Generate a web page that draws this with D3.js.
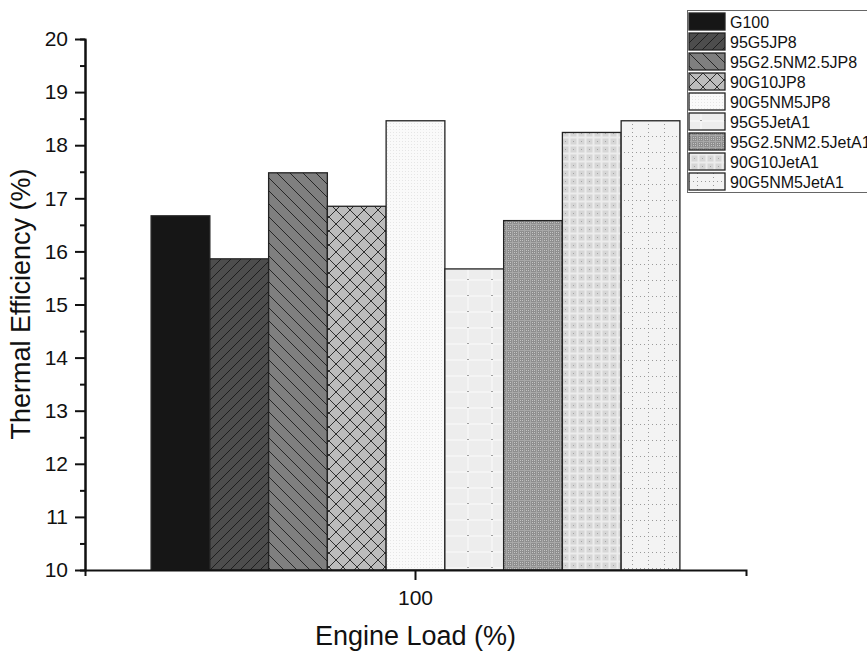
<!DOCTYPE html>
<html>
<head>
<meta charset="utf-8">
<script src="https://cdn.jsdelivr.net/npm/d3@7"></script>
<style>
  body { margin: 0; background: #fff; }
  text { font-family: "Liberation Sans", Arial, sans-serif; fill: #111; }
</style>
</head>
<body>
<div id="chart"></div>
<script>
var loads = ["100"];
var fuels = ["G100", "95G5JP8", "95G2.5NM2.5JP8", "90G10JP8", "90G5NM5JP8",
             "95G5JetA1", "95G2.5NM2.5JetA1", "90G10JetA1", "90G5NM5JetA1"];
var efficiency = [16.67, 15.86, 17.48, 16.85, 18.46, 15.67, 16.58, 18.24, 18.46];
var yTicks = [10, 11, 12, 13, 14, 15, 16, 17, 18, 19, 20];

var width = 867,
    height = 651;

var svg = d3.select("#chart")
            .append("svg")
            .attr("width", width)
            .attr("height", height);

var defs = svg.append("defs");

// fill patterns, one per fuel
function pattern(id, w, h, bg) {
    var p = defs.append("pattern")
        .attr("id", id)
        .attr("patternUnits", "userSpaceOnUse")
        .attr("width", w)
        .attr("height", h);
    p.append("rect").attr("width", w).attr("height", h).attr("fill", bg);
    return p;
}

pattern("p0", 10, 10, "#161616");

pattern("p1", 10, 10, "#4d4d4d")
    .append("path")
    .attr("d", "M0,10L10,0M-2,2L2,-2M8,12L12,8")
    .attr("stroke", "#1e1e1e").attr("stroke-width", 1);

pattern("p2", 13, 13, "#7f7f7f")
    .append("path")
    .attr("d", "M0,0L13,13M-3,10L3,16M10,-3L16,3")
    .attr("stroke", "#262626").attr("stroke-width", 1);

pattern("p3", 14, 14, "#bcbcbc")
    .append("path")
    .attr("d", "M0,0L14,14M0,14L14,0")
    .attr("stroke", "#2e2e2e").attr("stroke-width", 1);

var p4 = pattern("p4", 3, 3, "#fafafa");
p4.append("rect").attr("width", 1).attr("height", 1).attr("fill", "#e6e6e6");

var p5 = pattern("p5", 24, 16, "#ededed");
p5.append("path").attr("d", "M0,8H24M12,0V16").attr("stroke", "#fbfbfb").attr("stroke-width", 1);
p5.append("rect").attr("x", 11).attr("y", 7).attr("width", 2).attr("height", 1).attr("fill", "#a0a0a0");

var p6 = pattern("p6", 6, 6, "#8e8e8e");
p6.append("path").attr("d", "M0,0h1v1h-1zM2,2h1v1h-1zM4,4h1v1h-1zM4,0h1v1h-1zM0,4h1v1h-1z")
    .attr("fill", "#c4c4c4");
p6.append("path").attr("d", "M0,2.5H6M2.5,0V6").attr("stroke", "#a8a8a8").attr("stroke-width", 1);

var p7 = pattern("p7", 8, 8, "#d6d6d6");
p7.append("path").attr("d", "M0,1.5H8M1.5,0V8").attr("stroke", "#ececec").attr("stroke-width", 2);
p7.append("rect").attr("x", 5).attr("y", 5).attr("width", 1).attr("height", 1).attr("fill", "#a4a4a4");

var p8 = pattern("p8", 16, 16, "#f3f3f3");
p8.append("path").attr("d", "M0,8.5H16M8.5,0V16")
    .attr("stroke", "#999").attr("stroke-width", 1).attr("stroke-dasharray", "1,3");

var x = d3.scaleBand()
    .domain(loads)
    .range([85, 746])
    .paddingInner(0)
    .paddingOuter(0.125);

var xFuel = d3.scaleBand()
    .domain(fuels)
    .range([0, x.bandwidth()]);

var y = d3.scaleLinear()
    .domain([10, 20])
    .range([570, 39]);

var bars = svg.append("g")
    .selectAll(".bar")
    .data(fuels)
    .enter().append("rect")
    .attr("class", "bar")
    .attr("x", function(d) { return x("100") + xFuel(d); })
    .attr("width", xFuel.bandwidth())
    .attr("y", function(d, i) { return y(efficiency[i]); })
    .attr("height", function(d, i) { return y(10) - y(efficiency[i]); })
    .attr("fill", function(d, i) { return "url(#p" + i + ")"; })
    .attr("stroke", "#222")
    .attr("stroke-width", 1.3);

// axes
var yAxisMinor = svg.append("g")
    .attr("transform", "translate(85,0)")
    .call(d3.axisLeft(y).tickValues(d3.range(10.5, 20, 1)).tickSize(5).tickFormat(""));

var yAxis = svg.append("g")
    .attr("transform", "translate(85,0)")
    .call(d3.axisLeft(y).tickValues(yTicks).tickSize(10).tickSizeOuter(0).tickPadding(7));

var xAxis = svg.append("g")
    .attr("transform", "translate(0,570)")
    .call(d3.axisBottom(x).tickSize(10).tickSizeOuter(6).tickPadding(10));

svg.selectAll(".domain, .tick line")
    .attr("stroke", "#111")
    .attr("stroke-width", 2);

svg.selectAll(".tick text")
    .style("font-size", "21px")
    .style("font-family", "'Liberation Sans', Arial, sans-serif")
    .attr("fill", "#111");

svg.append("text")
    .attr("transform", "translate(30,304) rotate(-90)")
    .attr("text-anchor", "middle")
    .style("font-size", "27px")
    .text("Thermal Efficiency (%)");

svg.append("text")
    .attr("x", 415.5)
    .attr("y", 645)
    .attr("text-anchor", "middle")
    .style("font-size", "27px")
    .text("Engine Load (%)");

// legend
var legend = svg.append("g");

legend.append("rect")
    .attr("x", 687.5)
    .attr("y", 10.5)
    .attr("width", 200)
    .attr("height", 182)
    .attr("fill", "#fff")
    .attr("stroke", "#666")
    .attr("stroke-width", 1);

var items = legend.selectAll(".item")
    .data(fuels)
    .enter().append("g")
    .attr("class", "item")
    .attr("transform", function(d, i) { return "translate(689," + (13 + i * 20) + ")"; });

items.append("rect")
    .attr("width", 36)
    .attr("height", 17)
    .attr("fill", function(d, i) { return "url(#p" + i + ")"; })
    .attr("stroke", "#222")
    .attr("stroke-width", 1.3);

items.append("text")
    .attr("x", 41)
    .attr("y", 15)
    .style("font-size", "16px")
    .text(function(d) { return d; });
</script>
</body>
</html>
